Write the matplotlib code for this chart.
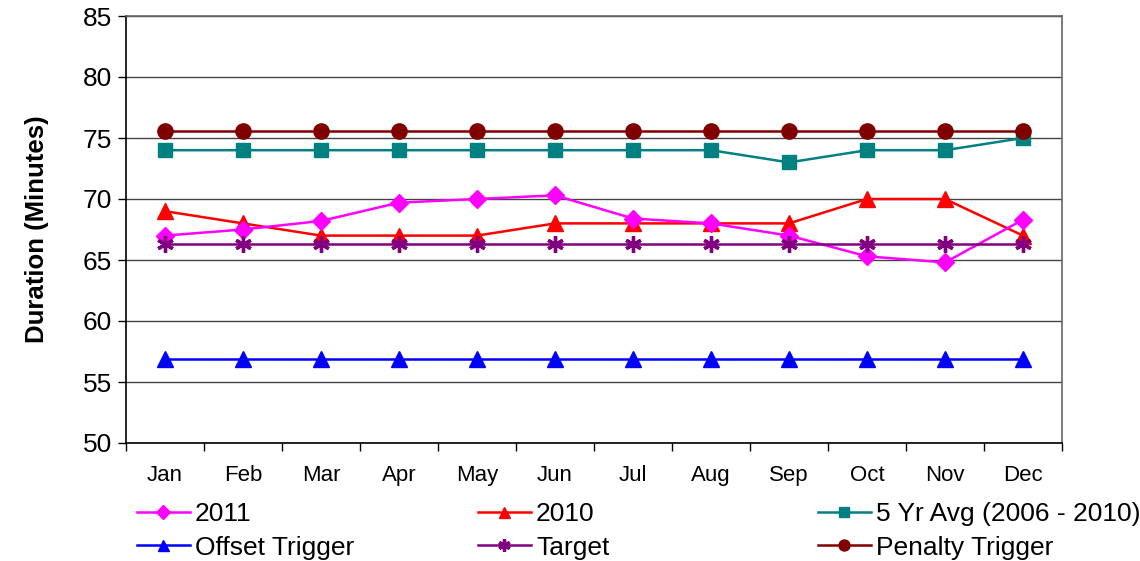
import matplotlib
matplotlib.use("Agg")
import matplotlib.pyplot as plt

plt.rcParams['font.family'] = ['Liberation Sans', 'DejaVu Sans']

months = ["Jan", "Feb", "Mar", "Apr", "May", "Jun", "Jul", "Aug", "Sep", "Oct", "Nov", "Dec"]
s2011 = [67.0, 67.5, 68.2, 69.7, 70.0, 70.3, 68.4, 68.0, 67.0, 65.3, 64.8, 68.3]
s2010 = [69.0, 68.0, 67.0, 67.0, 67.0, 68.0, 68.0, 68.0, 68.0, 70.0, 70.0, 67.0]
avg5 = [74.0, 74.0, 74.0, 74.0, 74.0, 74.0, 74.0, 74.0, 73.0, 74.0, 74.0, 75.0]
offset = [56.9] * 12
target = [66.3] * 12
penalty = [75.6] * 12
yticks = [50, 55, 60, 65, 70, 75, 80, 85]

fig = plt.figure(figsize=(11.4, 5.61), dpi=100)
ax = fig.add_axes([126/1140, 1-443/561, (1062-126)/1140, (443-16)/561])

x = list(range(len(months)))
lw = 1.8
h1, = ax.plot(x, s2011, color='#FF00FF', marker='D', markersize=9.5, lw=lw, label='2011', zorder=5)
h2, = ax.plot(x, s2010, color='#FF0000', marker='^', markersize=11, lw=lw, label='2010', zorder=4)
h3, = ax.plot(x, avg5, color='#008080', marker='s', markersize=10, lw=lw, label='5 Yr Avg (2006 - 2010)', zorder=4)
h4, = ax.plot(x, offset, color='#0000FF', marker='^', markersize=11, lw=lw, label='Offset Trigger', zorder=4)
h5, = ax.plot(x, target, color='#800080', marker=(6, 2, 0), markersize=12, mew=2.4, lw=lw, label='Target', zorder=6)
h6, = ax.plot(x, penalty, color='#800000', marker='o', markersize=11, lw=lw, label='Penalty Trigger', zorder=4)

ax.set_xlim(-0.5, 11.5)
ax.set_ylim(50, 85)
ax.set_yticks(yticks)
ax.set_yticklabels([str(v) for v in yticks], fontsize=19)
ax.yaxis.grid(True, color='#444444', lw=1.0)
ax.set_axisbelow(True)

ax.set_xticks([i - 0.5 for i in range(13)])
ax.set_xticklabels([])
ax.set_xticks(x, minor=True)
ax.set_xticklabels(months, minor=True, fontsize=16)
ax.tick_params(axis='x', which='minor', length=0, pad=16)
ax.tick_params(axis='x', which='major', length=6, width=1, direction='out')
ax.tick_params(axis='y', length=6, width=1, direction='out', pad=4)

for s in ['left', 'bottom']:
    ax.spines[s].set_color('black')
    ax.spines[s].set_linewidth(1.2)
for s in ['top', 'right']:
    ax.spines[s].set_color('#666666')
    ax.spines[s].set_linewidth(1.2)

ax.set_ylabel('Duration (Minutes)', fontsize=18.5, fontweight='bold', labelpad=24)

cols = [[h1, h4], [h2, h5], [h3, h6]]
xs = [137, 478, 818]
for hs, xp in zip(cols, xs):
    fig.legend(handles=hs, labels=[h.get_label() for h in hs], loc='upper left',
               bbox_to_anchor=(xp/1140, 1-502/561), frameon=False, fontsize=19,
               handlelength=2.0, handletextpad=0.2, borderpad=0, borderaxespad=0,
               labelspacing=0.36, markerscale=0.72)

fig.savefig('out.png', dpi=100)
